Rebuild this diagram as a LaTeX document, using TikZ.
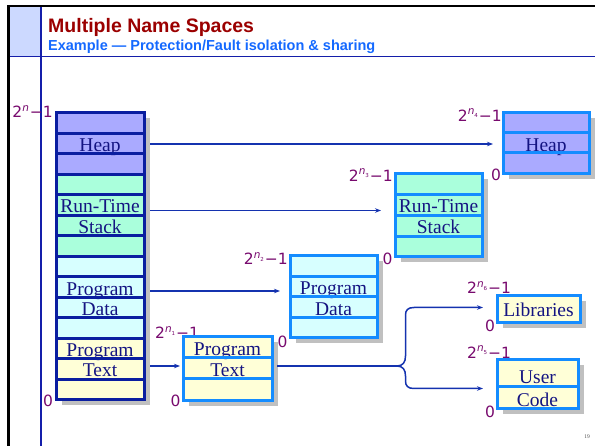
\documentclass[tikz,border=0pt]{standalone}
\usepackage{fontspec}
\setmainfont{Liberation Serif}
\newfontfamily\hfont{Liberation Sans}
\newfontfamily\lfont{DejaVu Sans}
\usetikzlibrary{arrows.meta,fit}
\definecolor{framenavy}{RGB}{20,30,170}
\definecolor{headband}{RGB}{204,217,255}
\definecolor{titlered}{RGB}{155,0,0}
\definecolor{subblue}{RGB}{20,105,255}
\definecolor{bignavy}{RGB}{10,30,160}
\definecolor{brightblue}{RGB}{20,140,255}
\definecolor{heapc}{RGB}{170,170,255}
\definecolor{stackc}{RGB}{170,255,220}
\definecolor{datac}{RGB}{215,255,255}
\definecolor{textc}{RGB}{255,255,215}
\definecolor{shadowc}{RGB}{192,192,192}
\definecolor{boxtxt}{RGB}{20,20,130}
\definecolor{lblc}{RGB}{120,10,110}
\definecolor{arrc}{RGB}{20,50,175}
\newcommand\pwr[1]{2\raisebox{0.42em}{\fontsize{10.5}{10}\selectfont\textit{n}\raisebox{-0.25em}{\fontsize{5.5}{5}\selectfont #1}}\kern1pt−1}
\newcommand\membox[9]{%
  \fill[shadowc] (#2+5.5,#3+5.5) rectangle (#4+5.5,#5+5.5);
  \node[fit={(#2,#3) (#4,#5)}, inner sep=0pt, outer sep=0pt, fill=#6] (#1) {};
  #9
  \foreach \yy in {#8} \draw[line width=3pt, #7] (#2,\yy) -- (#4,\yy);
  \draw[line width=3pt, #7] (#1.north west) rectangle (#1.south east);
}
\tikzset{
  boxtext/.style={anchor=base, inner sep=0pt, text=boxtxt, font=\fontsize{19.5}{20}\selectfont},
  lbl/.style={inner sep=0pt, text=lblc, font=\lfont\fontsize{15.5}{15}\selectfont},
  arr/.style={draw=arrc, line width=1.5pt, -{Stealth[length=6pt,width=4.5pt]}},
}
\begin{document}
\begin{tikzpicture}[x=1pt,y=-1pt]
\useasboundingbox (0,0) rectangle (595,446);
% frame
\fill[headband] (9,7) rectangle (41,56);
\draw[black, line width=2.6pt] (8.5,446) -- (8.5,6) -- (595,6);
\draw[framenavy, line width=1.6pt] (41,7) -- (41,446);
\draw[framenavy, line width=1.6pt] (9.8,56.5) -- (595,56.5);
\node[anchor=base west, inner sep=0pt, text=titlered, font=\hfont\bfseries\fontsize{19.5}{20}\selectfont] (title) at (48,32.5) {Multiple Name Spaces};
\node[anchor=base west, inner sep=0pt, text=subblue, font=\hfont\bfseries\fontsize{14.5}{15}\selectfont] (subtitle) at (48,51) {Example — Protection/Fault isolation \& sharing};

% big box
\fill[shadowc] (61.5,118.5) rectangle (149.5,405.5);
\fill[heapc] (56,113) rectangle (144,174.5);
\fill[stackc] (56,174.5) rectangle (144,256.5);
\fill[datac] (56,256.5) rectangle (144,338.5);
\fill[textc] (56,338.5) rectangle (144,400);
\node[fit={(56,113) (144,400)}, inner sep=0pt, outer sep=0pt] (big) {};
\node[boxtext] (bheap) at (100,152) {Heap};
\node[boxtext] (brt) at (100,213) {Run-Time};
\node[boxtext] (bst) at (100,233.5) {Stack};
\node[boxtext] (bpd) at (100,295.5) {Program};
\node[boxtext] (bdt) at (100,316) {Data};
\node[boxtext] (bpt) at (100,356.5) {Program};
\node[boxtext] (btx) at (100,377) {Text};
\foreach \yy in {133.5,154,174.5,195,215.5,236,256.5,277,297.5,318,338.5,359,379.5}
  \draw[line width=3pt, bignavy] (56,\yy) -- (144,\yy);
\draw[line width=3pt, bignavy] (big.north west) rectangle (big.south east);
\node[lbl, anchor=base east] (bigtop) at (53,118) {2\raisebox{0.42em}{\fontsize{10.5}{10}\selectfont\textit{n}}\kern1pt−1};
\node[lbl, anchor=base] (bigzero) at (48,406.5) {0};

% heap n4
\membox{heapr}{503}{113}{589}{174}{heapc}{brightblue}{133,153}{%
  \node[boxtext] (hheap) at (546,152) {Heap};}
\node[lbl, anchor=base east] (heaptop) at (502,121.5) {\pwr{4}};
\node[lbl, anchor=base] (heapzero) at (496,180.5) {0};

% stack n3
\membox{stackr}{395}{174}{482}{257}{stackc}{brightblue}{195,216,237}{%
  \node[boxtext] (srt) at (438.5,213) {Run-Time};
  \node[boxtext] (sst) at (438.5,233.5) {Stack};}
\node[lbl, anchor=base east] (stacktop) at (393,181.5) {\pwr{3}};
\node[lbl, anchor=base] (stackzero) at (387.5,265) {0};

% data n2
\membox{datar}{290}{256}{377}{338}{datac}{brightblue}{277,297,318}{%
  \node[boxtext] (dpg) at (333.5,295) {Program};
  \node[boxtext] (ddt) at (333.5,315.5) {Data};}
\node[lbl, anchor=base east] (datatop) at (288,265) {\pwr{2}};
\node[lbl, anchor=base] (datazero) at (282.5,348) {0};

% text n1
\node[lbl, anchor=base west] (texttop) at (155,339) {\pwr{1}};
\membox{textr}{183}{337}{272}{401}{textc}{brightblue}{358,379}{%
  \node[boxtext] (tpg) at (227.5,356) {Program};
  \node[boxtext] (ttx) at (227.5,377) {Text};}
\node[lbl, anchor=base] (textzero) at (175.5,406.5) {0};

% libraries n6
\membox{libr}{497}{296}{580}{323}{textc}{brightblue}{296}{%
  \node[boxtext] (llib) at (538.5,317) {Libraries};}
\node[lbl, anchor=base west] (libtop) at (467,294) {\pwr{6}};
\node[lbl, anchor=base] (libzero) at (490,331.5) {0};

% user code n5
\membox{userr}{497}{360}{578}{409}{textc}{brightblue}{387}{%
  \node[boxtext] (uus) at (537.5,384) {User};
  \node[boxtext] (ucd) at (537.5,407) {Code};}
\node[lbl, anchor=base west] (usertop) at (467,358.5) {\pwr{5}};
\node[lbl, anchor=base] (userzero) at (490,418) {0};

% arrows
\coordinate (a1s) at (150,144);   \coordinate (a1e) at (493,144);
\coordinate (a2s) at (150,210.5); \coordinate (a2e) at (381,210.5);
\coordinate (a3s) at (150,291);   \coordinate (a3e) at (280,291);
\coordinate (a4s) at (150,366);   \coordinate (a4e) at (180,366);
\draw[arr] (a1s) -- (a1e);
\draw[arr] (a2s) -- (a2e);
\draw[arr] (a3s) -- (a3e);
\draw[arr] (a4s) -- (a4e);
\coordinate (cusp) at (397,366);
\coordinate (libin) at (483,307.5);
\coordinate (userin) at (483,388.5);
\draw[arrc, line width=1.6pt] (textr.east |- cusp) ++(5,0) -- (cusp);
\draw[arr] (cusp) .. controls (403,366) and (405.5,362) .. (405.5,356) -- (405.5,315)
  .. controls (405.5,310) and (408,307.5) .. (414,307.5) -- (libin);
\draw[arr] (cusp) .. controls (403,366) and (405.5,370) .. (405.5,376) -- (405.5,381)
  .. controls (405.5,386) and (408,388.5) .. (414,388.5) -- (userin);

\node[inner sep=0pt, text=black!70, font=\fontsize{5.5}{5}\selectfont] (pgno) at (587,437) {19};
\end{tikzpicture}
\end{document}
